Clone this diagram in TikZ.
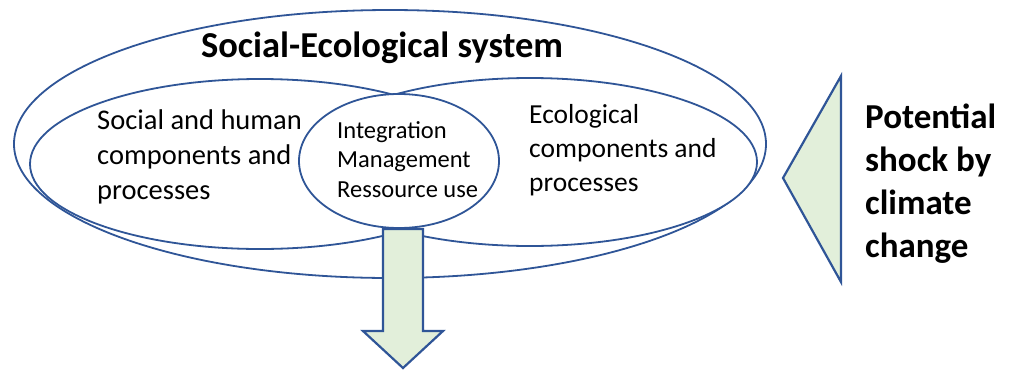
\documentclass[tikz,border=0pt]{standalone}
\usepackage{fontspec}
\setmainfont{Carlito}
\definecolor{sesblue}{RGB}{47,85,151}
\definecolor{sesgreen}{RGB}{226,239,218}
\newcommand{\lines}[1]{\begin{tabular}[t]{@{}l@{}}#1\end{tabular}}
\begin{document}
\begin{tikzpicture}[x=1pt,y=-1pt,line join=round,line cap=round,
	ring/.style={draw=sesblue,line width=1.8pt,fill=white},
	greenshape/.style={draw=sesblue,line width=2.2pt,fill=sesgreen,line join=miter},
	txt/.style={inner sep=0pt,anchor=base west}]
	\useasboundingbox (0,0) rectangle (1022,370);
	\coordinate (SES) at (390,144);
	\coordinate (SOC) at (260,164);
	\coordinate (ECO) at (530,162);
	\coordinate (INT) at (399,161);
	% ellipses
	\draw[ring] (SES) ellipse [x radius=376,y radius=134];
	\draw[ring] (SOC) ellipse [x radius=230,y radius=85];
	\draw[ring] (ECO) ellipse [x radius=227,y radius=84];
	\draw[ring] (INT) ellipse [x radius=100,y radius=67];
	% output arrow
	\coordinate (A1) at (383,229);
	\coordinate (A2) at (423,229);
	\coordinate (T) at (403,368);
	\draw[greenshape] (A1)--(383,331)--(363,331)--(T)--(443,331)--(423,331)--(A2)--cycle;
	% shock triangle
	\coordinate (S1) at (841,76);
	\coordinate (S2) at (841,282);
	\coordinate (S) at (783,178);
	\draw[greenshape] (S1)--(S)--(S2)--cycle;
	% texts
	\node[inner sep=0pt,anchor=base,font=\fontsize{36.5}{44}\selectfont\bfseries] (title) at (382,57) {Social-Ecological system};
	\node[txt,font=\fontsize{28.5}{35}\selectfont] (soc) at (97,129) {\lines{Social and human\\components and\\processes}};
	\node[txt,font=\fontsize{24.5}{29.5}\selectfont] (int) at (337,138) {\lines{Integration\\Management\\Ressource use}};
	\node[txt,font=\fontsize{27.5}{34}\selectfont] (eco) at (529,123) {\lines{Ecological\\components and\\processes}};
	\node[txt,font=\fontsize{35}{43}\selectfont\bfseries] (shock) at (865,128) {\lines{Potential\\shock by\\climate\\change}};
\end{tikzpicture}
\end{document}
